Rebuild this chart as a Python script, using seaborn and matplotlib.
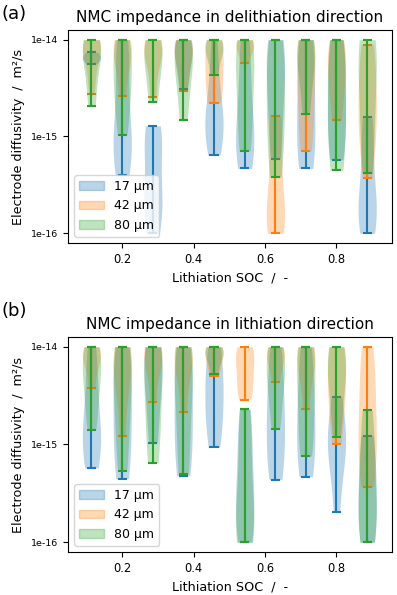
import numpy as np
import pandas as pd
import matplotlib
matplotlib.use("Agg")
import matplotlib.pyplot as plt
import matplotlib.patches as mpatches
import seaborn as sns

# === Data (log10 of diffusivity in m2/s, clipped to [1e-16, 1e-14]) ===
soc = [0.114, 0.2, 0.286, 0.371, 0.457, 0.543, 0.629, 0.714, 0.8, 0.886]
thickness = ["17 µm", "42 µm", "80 µm"]

# delithiation direction
deli_17 = [
    [-14.13, -14.16, -14.19, -14.21, -14.25],
    [-14.0, -14.1, -14.3, -14.6, -14.9, -15.05, -15.15, -15.25, -15.4],
    [-14.89, -14.95, -15.05, -15.3, -15.6, -15.7, -15.8, -16.0],
    [-14.0, -14.05, -14.15, -14.3, -14.51],
    [-14.0, -14.3, -14.6, -14.75, -14.85, -14.95, -15.05, -15.19],
    [-14.0, -14.2, -14.5, -14.8, -14.95, -15.1, -15.2, -15.33],
    [-14.0, -14.1, -14.3, -14.6, -14.9, -15.23],
    [-14.0, -14.2, -14.5, -14.9, -15.1, -15.33],
    [-14.0, -14.2, -14.5, -14.8, -15.0, -15.24],
    [-14.8, -14.9, -15.2, -15.5, -15.7, -15.8, -15.9, -16.0],
]
deli_42 = [
    [-14.0, -14.0, -14.05, -14.1, -14.2, -14.35, -14.56],
    [-14.0, -14.05, -14.15, -14.3, -14.58],
    [-14.0, -14.05, -14.1, -14.25, -14.59],
    [-14.0, -14.05, -14.1, -14.2, -14.35, -14.53],
    [-14.0, -14.1, -14.3, -14.5, -14.65],
    [-14.0, -14.05, -14.1, -14.24],
    [-14.79, -14.9, -15.1, -15.5, -15.75, -15.85, -15.92, -16.0],
    [-14.0, -14.1, -14.3, -14.6, -14.9, -15.15],
    [-14.0, -14.1, -14.25, -14.4, -14.6, -14.83],
    [-14.05, -14.2, -14.5, -14.7, -14.9, -15.1, -15.43],
]
deli_80 = [
    [-14.0, -14.02, -14.1, -14.2, -14.3, -14.5, -14.69],
    [-14.0, -14.1, -14.3, -14.5, -14.7, -14.98],
    [-14.0, -14.1, -14.2, -14.4, -14.64],
    [-14.0, -14.1, -14.2, -14.35, -14.55, -14.83],
    [-14.0, -14.05, -14.1, -14.2, -14.36],
    [-14.0, -14.1, -14.3, -14.6, -14.9, -15.15],
    [-14.0, -14.2, -14.5, -14.8, -15.1, -15.42],
    [-14.0, -14.05, -14.15, -14.3, -14.5, -14.77],
    [-14.0, -14.2, -14.5, -14.8, -15.1, -15.35],
    [-14.0, -14.05, -14.2, -14.5, -14.8, -15.1, -15.38],
]

# lithiation direction
li_17 = [
    [-14.0, -14.2, -14.5, -14.7, -14.9, -15.0, -15.1, -15.24],
    [-14.0, -14.2, -14.5, -14.8, -15.1, -15.35],
    [-14.0, -14.1, -14.3, -14.6, -14.98],
    [-14.0, -14.2, -14.5, -14.8, -15.1, -15.32],
    [-14.0, -14.2, -14.4, -14.6, -14.8, -15.03],
    [-14.64, -14.9, -15.3, -15.6, -15.8, -16.0],
    [-14.0, -14.3, -14.6, -14.9, -15.1, -15.36],
    [-14.0, -14.3, -14.6, -14.9, -15.1, -15.33],
    [-14.51, -14.7, -14.9, -15.0, -15.1, -15.3, -15.69],
    [-14.91, -15.2, -15.5, -15.8, -16.0],
]
li_42 = [
    [-14.0, -14.05, -14.1, -14.2, -14.42],
    [-14.0, -14.05, -14.15, -14.3, -14.5, -14.91],
    [-14.0, -14.05, -14.1, -14.25, -14.57],
    [-14.0, -14.05, -14.15, -14.3, -14.67],
    [-14.0, -14.05, -14.15, -14.3],
    [-14.0, -14.05, -14.15, -14.3, -14.45, -14.54],
    [-14.0, -14.05, -14.1, -14.2, -14.36],
    [-14.0, -14.05, -14.15, -14.3, -14.64],
    [-14.0, -14.1, -14.3, -14.5, -14.7, -14.99],
    [-14.0, -14.2, -14.5, -14.8, -15.0, -15.2, -15.43],
]
li_80 = [
    [-14.0, -14.1, -14.2, -14.4, -14.6, -14.85],
    [-14.0, -14.1, -14.3, -14.6, -14.9, -15.27],
    [-14.0, -14.1, -14.3, -14.6, -14.9, -15.19],
    [-14.0, -14.1, -14.3, -14.6, -15.0, -15.3],
    [-14.0, -14.05, -14.1, -14.28],
    [-14.64, -14.8, -15.1, -15.4, -15.7, -15.85, -15.95, -16.0],
    [-14.0, -14.1, -14.3, -14.5, -14.84],
    [-14.0, -14.1, -14.3, -14.6, -14.9, -15.12],
    [-14.0, -14.05, -14.2, -14.4, -14.6, -14.92],
    [-14.65, -14.9, -15.2, -15.5, -15.7, -15.9, -16.0],
]

colors = sns.color_palette("tab10")[:3]
violin_width = 0.6  # fraction of the SOC spacing
cap_half = 0.25 * violin_width * 0.085


def to_long(groups):
    rows = []
    for x, vals in zip(soc, groups):
        for v in vals:
            rows.append({"soc": x, "logD": v})
    return pd.DataFrame(rows)


def draw_panel(ax, series, title):
    for i, (groups, c) in enumerate(zip(series, colors)):
        df = to_long(groups)
        sns.violinplot(data=df, x="soc", y="logD", native_scale=True, color=c,
                       saturation=1, cut=0, inner=None, density_norm="width",
                       width=violin_width, linewidth=0, alpha=0.3,
                       zorder=1 + 2 * i, ax=ax)
        mins = [min(g) for g in groups]
        maxs = [max(g) for g in groups]
        ax.vlines(soc, mins, maxs, color=c, lw=1.5, zorder=2 + 2 * i)
        ax.hlines(maxs, np.array(soc) - cap_half, np.array(soc) + cap_half,
                  color=c, lw=1.5, zorder=2 + 2 * i)
        ax.hlines(mins, np.array(soc) - cap_half, np.array(soc) + cap_half,
                  color=c, lw=1.5, zorder=2 + 2 * i)

    ax.set_xlim(0.048, 0.955)
    ax.set_ylim(-16.1, -13.9)
    ax.set_yticks([-16, -15, -14])
    ax.set_yticklabels(["1e-16", "1e-15", "1e-14"], fontsize=6.8)
    ax.set_xticks([0.2, 0.4, 0.6, 0.8])
    ax.set_xticklabels(["0.2", "0.4", "0.6", "0.8"], fontsize=8.3)
    ax.set_xlabel("Lithiation SOC  /  -", fontsize=9.2)
    ax.set_ylabel("Electrode diffusivity  /  m²/s", fontsize=9.2)
    ax.set_title(title, fontsize=11)

    handles = [mpatches.Patch(color=c, alpha=0.3) for c in colors]
    ax.legend(handles, thickness, loc="lower left", fontsize=9)


fig = plt.figure(figsize=(3.97, 5.95), dpi=100)
ax_a = fig.add_axes([0.171, 0.5916, 0.816, 0.358])
ax_b = fig.add_axes([0.171, 0.0723, 0.816, 0.3613])

draw_panel(ax_a, [deli_17, deli_42, deli_80], "NMC impedance in delithiation direction")
draw_panel(ax_b, [li_17, li_42, li_80], "NMC impedance in lithiation direction")

fig.text(0.005, 0.992, "(a)", fontsize=13, va="top")
fig.text(0.005, 0.493, "(b)", fontsize=13, va="top")

fig.savefig("out.png", dpi=100)
